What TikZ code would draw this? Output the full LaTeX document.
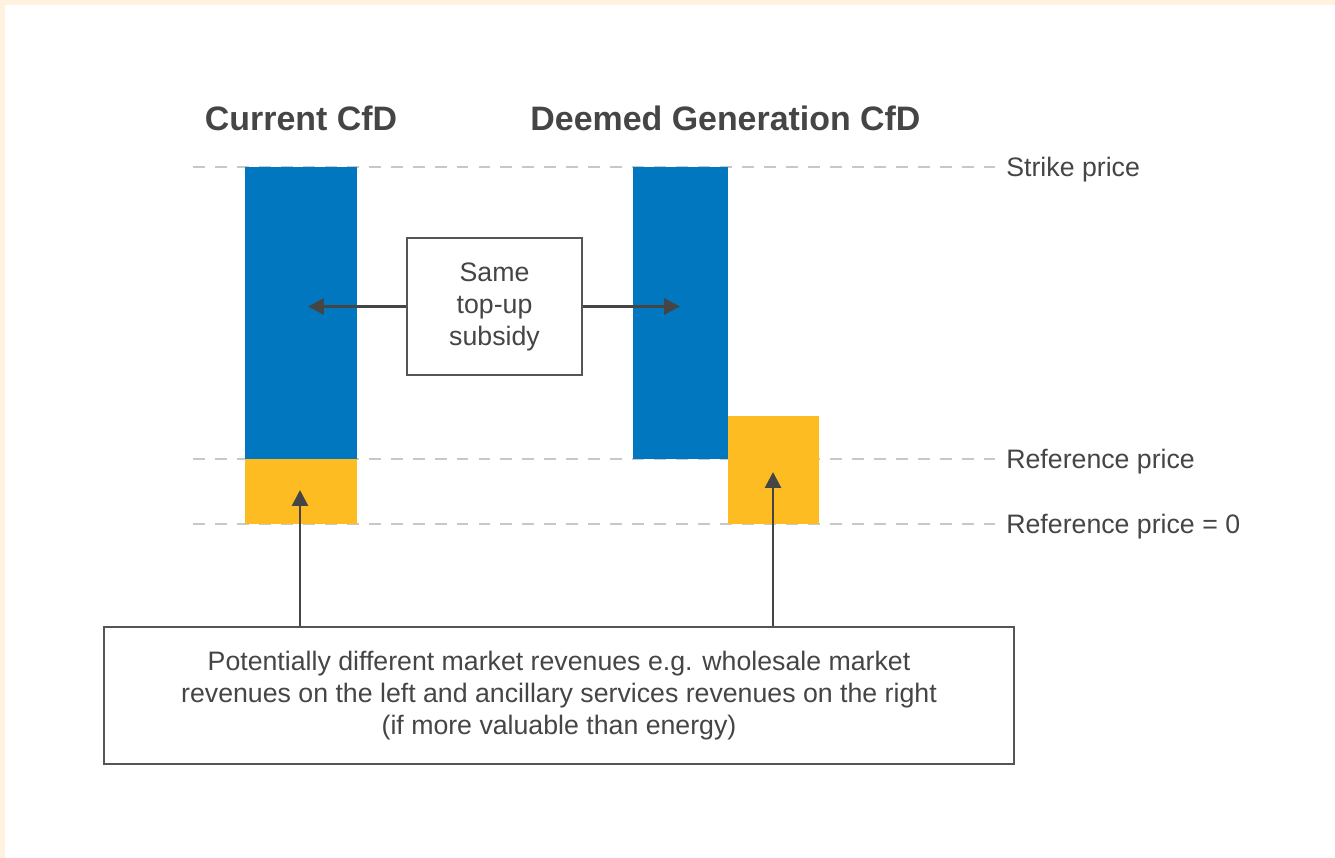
\documentclass[tikz,border=0pt]{standalone}
\usepackage{fontspec}
\setmainfont{Liberation Sans}
\usetikzlibrary{arrows.meta}

\definecolor{cfdblue}{HTML}{0077BF}
\definecolor{cfdyellow}{HTML}{FDBC22}
\definecolor{cfdgray}{HTML}{454545}
\definecolor{cfdline}{HTML}{555555}
\definecolor{cfddash}{HTML}{C8C8C8}
\definecolor{cfdcream}{HTML}{FFF3DF}

\begin{document}
\begin{tikzpicture}[x=0.02cm, y=-0.02cm,
    pricelevel/.style={draw=cfddash, line width=1.7pt, dash pattern=on 6.8pt off 5.7pt},
    levellabel/.style={anchor=west, inner sep=0pt, yshift=-1.6pt, text=cfdgray, font=\fontsize{15.2}{18.2}\selectfont},
    title/.style={inner sep=0pt, text=cfdgray, font=\fontsize{19.3}{22}\selectfont\bfseries},
    textbox/.style={draw=cfdline, line width=1.6pt, fill=white, inner sep=0pt, align=center,
      text=cfdgray, font=\fontsize{15.2}{18.2}\selectfont},
    arrowline/.style={draw=cfdgray, line width=1.6pt, -{Triangle[length=9pt, width=9pt]}}]

    % page (cream frame, white sheet)
    \fill[cfdcream] (0,0) rectangle (1335,858);
    \fill[white] (5,5) rectangle (1335,858);

    % price levels (pixels)
    \def\yStrike{167}  % strike price
    \def\yRef{459}     % reference price
    \def\yZero{524}    % reference price = 0

    % dashed price lines
    \foreach \lev in {\yStrike,\yRef,\yZero}
        \draw[pricelevel] (193,\lev) -- (995,\lev);

    % current CfD bar
    \fill[cfdblue]   (245,\yStrike) rectangle (357,\yRef);
    \fill[cfdyellow] (245,\yRef) rectangle (357,\yZero);

    % deemed generation CfD bar
    \fill[cfdblue]   (633,\yStrike) rectangle (728,\yRef);
    \fill[cfdyellow] (728,416) rectangle (819,\yZero);

    % headings
    \node[title] (current) at (301,118) {Current CfD};
    \node[title] (deemed) at (725.5,118) {Deemed Generation CfD};

    % level labels
    \node[levellabel] (strike) at (1006,\yStrike) {Strike price};
    \node[levellabel] (refprice) at (1006,\yRef) {Reference price};
    \node[levellabel] (refzero) at (1006,\yZero) {Reference price = 0};

    % text boxes
    \node[textbox, minimum width=3.5cm, minimum height=2.74cm] (subsidy) at (494.5,306.5)
        {Same\\top-up\\subsidy};
    \node[textbox, minimum width=18.2cm, minimum height=2.74cm] (revenues) at (559,695.5)
        {Potentially different market revenues e.g. wholesale market\\
         revenues on the left and ancillary services revenues on the right\\
         (if more valuable than energy)};

    % arrow ends inside the bars
    \coordinate (subL) at (308,306.5);
    \coordinate (subR) at (680,306.5);
    \coordinate (revL) at (300,490);
    \coordinate (revR) at (773,472);

    % arrows
    \draw[arrowline] (subsidy.west) -- (subL);
    \draw[arrowline] (subsidy.east) -- (subR);
    \draw[arrowline] (revenues.north -| revL) -- (revL);
    \draw[arrowline] (revenues.north -| revR) -- (revR);

\end{tikzpicture}
\end{document}
